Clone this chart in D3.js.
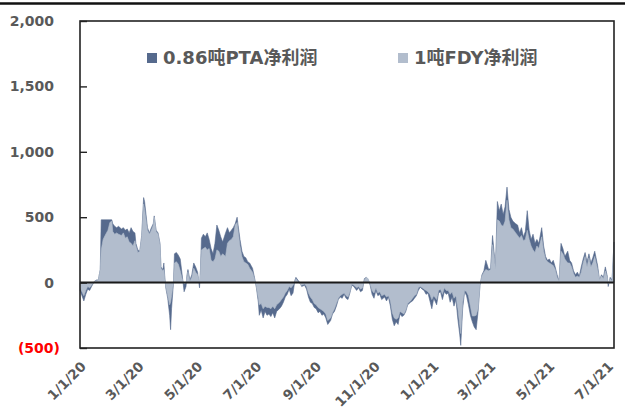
<!DOCTYPE html>
<html>
<head>
<meta charset="utf-8">
<script src="https://cdn.jsdelivr.net/npm/d3@7/dist/d3.min.js"></script>
<style>
  body { margin: 0; background: #fff; }
  svg { display: block; }
</style>
</head>
<body>
<svg id="chart" width="625" height="412"></svg>
<script>
// Daily net profit: 0.86 t PTA vs 1 t FDY (yuan)
const dates = [
  "2020-01-01","2020-01-03","2020-01-05","2020-01-07","2020-01-09","2020-01-11","2020-01-13","2020-01-16","2020-01-18","2020-01-20",
  "2020-01-21","2020-01-22","2020-01-23","2020-01-25","2020-01-27","2020-01-30","2020-02-01","2020-02-03","2020-02-04","2020-02-06",
  "2020-02-08","2020-02-10","2020-02-13","2020-02-15","2020-02-17","2020-02-19","2020-02-21","2020-02-23","2020-02-25","2020-02-27",
  "2020-02-28","2020-03-01","2020-03-03","2020-03-05","2020-03-07","2020-03-08","2020-03-11","2020-03-13","2020-03-15","2020-03-17",
  "2020-03-18","2020-03-20","2020-03-22","2020-03-24","2020-03-25","2020-03-27","2020-03-28","2020-03-29","2020-03-30","2020-04-01",
  "2020-04-03","2020-04-04","2020-04-05","2020-04-07","2020-04-08","2020-04-10","2020-04-12","2020-04-14","2020-04-16","2020-04-18",
  "2020-04-20","2020-04-21","2020-04-22","2020-04-24","2020-04-26","2020-04-28","2020-04-30","2020-05-02","2020-05-04","2020-05-05",
  "2020-05-06","2020-05-08","2020-05-10","2020-05-12","2020-05-14","2020-05-16","2020-05-18","2020-05-20","2020-05-22","2020-05-24",
  "2020-05-26","2020-05-28","2020-05-31","2020-06-02","2020-06-04","2020-06-06","2020-06-08","2020-06-10","2020-06-12","2020-06-13",
  "2020-06-15","2020-06-17","2020-06-19","2020-06-21","2020-06-23","2020-06-25","2020-06-28","2020-06-30","2020-07-02","2020-07-04",
  "2020-07-05","2020-07-07","2020-07-09","2020-07-11","2020-07-13","2020-07-15","2020-07-17","2020-07-19","2020-07-21","2020-07-23",
  "2020-07-26","2020-07-28","2020-07-30","2020-08-01","2020-08-03","2020-08-05","2020-08-07","2020-08-09","2020-08-11","2020-08-12",
  "2020-08-14","2020-08-16","2020-08-18","2020-08-21","2020-08-23","2020-08-25","2020-08-27","2020-08-29","2020-08-31","2020-09-02",
  "2020-09-04","2020-09-06","2020-09-08","2020-09-10","2020-09-12","2020-09-14","2020-09-17","2020-09-19","2020-09-21","2020-09-23",
  "2020-09-25","2020-09-27","2020-09-29","2020-10-01","2020-10-03","2020-10-05","2020-10-07","2020-10-09","2020-10-11","2020-10-14",
  "2020-10-16","2020-10-18","2020-10-20","2020-10-22","2020-10-24","2020-10-26","2020-10-28","2020-10-30","2020-11-01","2020-11-03",
  "2020-11-05","2020-11-07","2020-11-09","2020-11-12","2020-11-14","2020-11-16","2020-11-18","2020-11-20","2020-11-22","2020-11-24",
  "2020-11-26","2020-11-28","2020-11-30","2020-12-02","2020-12-04","2020-12-06","2020-12-09","2020-12-11","2020-12-13","2020-12-15",
  "2020-12-17","2020-12-19","2020-12-21","2020-12-23","2020-12-25","2020-12-27","2020-12-29","2020-12-31","2021-01-02","2021-01-05",
  "2021-01-07","2021-01-09","2021-01-11","2021-01-13","2021-01-15","2021-01-17","2021-01-19","2021-01-21","2021-01-23","2021-01-25",
  "2021-01-27","2021-01-29","2021-01-30","2021-02-01","2021-02-03","2021-02-05","2021-02-07","2021-02-09","2021-02-11","2021-02-13",
  "2021-02-15","2021-02-17","2021-02-19","2021-02-21","2021-02-23","2021-02-25","2021-02-28","2021-03-02","2021-03-04","2021-03-06",
  "2021-03-07","2021-03-09","2021-03-11","2021-03-13","2021-03-15","2021-03-17","2021-03-19","2021-03-21","2021-03-23","2021-03-25",
  "2021-03-28","2021-03-30","2021-04-01","2021-04-03","2021-04-05","2021-04-07","2021-04-09","2021-04-11","2021-04-13","2021-04-15",
  "2021-04-17","2021-04-19","2021-04-21","2021-04-24","2021-04-26","2021-04-28","2021-04-30","2021-05-02","2021-05-04","2021-05-06",
  "2021-05-08","2021-05-10","2021-05-12","2021-05-14","2021-05-16","2021-05-18","2021-05-21","2021-05-23","2021-05-25","2021-05-27",
  "2021-05-29","2021-05-31","2021-06-02","2021-06-04","2021-06-06","2021-06-08","2021-06-10","2021-06-12","2021-06-14","2021-06-16",
  "2021-06-18","2021-06-21","2021-06-23","2021-06-25","2021-06-27","2021-06-29","2021-07-01","2021-07-02","2021-07-04","2021-07-06","2021-07-08"
];

const ptaProfit = [
  -60,-100,-140,-90,-50,-60,-30,10,20,20,
  60,100,480,480,480,480,480,480,450,430,
  420,430,410,420,400,410,380,420,390,380,
  300,250,240,360,650,620,420,380,420,450,
  510,400,380,300,120,100,150,40,-40,-120,
  -250,-360,-200,0,220,230,210,180,60,-70,
  -30,60,100,20,60,150,120,80,-40,100,
  340,370,350,380,330,260,220,300,440,400,
  350,310,380,420,380,400,420,450,500,440,
  330,240,200,190,160,150,110,40,-40,-150,
  -250,-210,-270,-220,-250,-240,-260,-230,-270,-220,
  -200,-180,-150,-110,-90,-50,-100,-80,20,40,
  20,0,-30,-20,-50,-110,-150,-160,-190,-200,
  -230,-220,-250,-240,-270,-320,-290,-240,-220,-180,
  -130,-110,-120,-90,-120,-130,-80,-20,-30,-60,
  -40,-70,-60,30,40,20,-20,-90,-120,-60,
  -100,-90,-130,-110,-140,-110,-180,-280,-330,-300,
  -320,-240,-260,-250,-220,-170,-150,-140,-120,-100,
  -60,-35,-50,-60,-90,-80,-140,-200,-120,-170,
  -80,-70,-130,-70,-90,-80,-150,-110,-180,-130,
  -280,-400,-480,-200,-70,-100,-170,-250,-300,-340,
  -360,-220,-20,60,90,170,100,110,360,200,
  110,620,550,600,520,580,730,560,500,470,
  450,440,380,420,350,390,550,400,330,370,
  300,330,300,420,280,200,170,180,150,170,
  120,60,10,300,260,200,240,170,150,90,
  60,80,50,120,180,230,160,220,150,190,
  240,130,20,60,40,120,50,-30,40,20,310
];

const fdyProfit = [
  -40,-70,-100,-60,-30,-40,-20,10,15,20,
  60,100,250,330,360,400,460,470,390,370,
  380,370,360,380,340,350,310,300,280,320,
  280,230,240,350,600,560,400,370,400,440,
  500,390,370,290,110,90,100,30,-30,-100,
  -170,-150,-100,0,150,160,140,90,30,-10,
  0,40,80,10,40,110,80,60,0,100,
  250,260,270,250,260,170,160,180,250,240,
  200,220,200,300,320,330,350,440,460,400,
  280,200,160,150,140,110,80,30,-30,-120,
  -170,-160,-200,-180,-190,-190,-200,-180,-200,-170,
  -150,-130,-110,-80,-60,-30,-40,-20,10,30,
  10,-10,-20,-10,-30,-80,-110,-130,-160,-170,
  -190,-200,-210,-220,-240,-290,-270,-230,-200,-160,
  -120,-100,-90,-80,-100,-110,-70,-10,-20,-40,
  -30,-50,-40,20,40,30,-10,-60,-80,-40,
  -80,-70,-100,-90,-110,-100,-140,-230,-270,-280,
  -270,-220,-230,-240,-210,-160,-140,-120,-100,-90,
  -40,-30,-40,-50,-60,-70,-90,-130,-100,-130,
  -60,-50,-90,-40,-60,-60,-90,-70,-120,-100,
  -200,-330,-390,-150,-60,-70,-100,-180,-255,-255,
  -250,-200,-10,50,80,100,90,100,290,180,
  100,480,470,440,430,470,630,480,420,410,
  380,360,340,360,320,330,400,330,280,250,
  230,280,260,350,240,180,160,150,140,130,
  100,40,10,240,220,180,150,150,120,70,
  40,50,40,80,150,200,120,190,120,150,
  200,100,20,50,30,90,40,-10,30,10,300
];

const seriesNames = ["0.86吨PTA净利润", "1吨FDY净利润"];
const seriesColors = ["#566a8d", "#b2bdcd"];
const yTicks = [-500, 0, 500, 1000, 1500, 2000];
const xTickDates = ["2020-01-01","2020-03-01","2020-05-01","2020-07-01","2020-09-01",
                    "2020-11-01","2021-01-01","2021-03-01","2021-05-01","2021-07-01"];
const xDomain = ["2020-01-01", "2021-07-08"];

if (dates.length !== ptaProfit.length || dates.length !== fdyProfit.length) {
  throw new Error("series length mismatch: " + dates.length + " / " + ptaProfit.length + " / " + fdyProfit.length);
}

const parse = d3.utcParse("%Y-%m-%d");
const FONT = "'DejaVu Sans', 'Noto Sans CJK SC', sans-serif";
const plot = { left: 80, right: 614, top: 21, bottom: 348 };

const svg = d3.select("#chart");

const x = d3.scaleUtc()
  .domain(xDomain.map(parse))
  .range([plot.left, plot.right]);

const y = d3.scaleLinear()
  .domain([-500, 2000])
  .range([plot.bottom, plot.top]);

// rule across the top of the page
svg.append("line")
  .attr("x1", 0).attr("x2", 625)
  .attr("y1", 3.5).attr("y2", 3.5)
  .attr("stroke", "#111").attr("stroke-width", 2.5);

const series = [ptaProfit, fdyProfit].map((vals, i) => ({
  name: seriesNames[i],
  color: seriesColors[i],
  points: dates.map((d, j) => ({ date: parse(d), value: vals[j] }))
}));

const area = d3.area()
  .x(d => x(d.date))
  .y0(y(0))
  .y1(d => y(d.value));

// PTA first, FDY drawn over it
svg.append("g")
  .selectAll("path")
  .data(series)
  .join("path")
  .attr("d", d => area(d.points))
  .attr("fill", d => d.color)
  .attr("stroke", d => d.color)
  .attr("stroke-width", 0.6);

// zero line
svg.append("line")
  .attr("x1", plot.left).attr("x2", plot.right)
  .attr("y1", y(0)).attr("y2", y(0))
  .attr("stroke", "#1a1a1a").attr("stroke-width", 2);

// plot frame
svg.append("rect")
  .attr("x", plot.left).attr("y", plot.top)
  .attr("width", plot.right - plot.left)
  .attr("height", plot.bottom - plot.top)
  .attr("fill", "none")
  .attr("stroke", "#222").attr("stroke-width", 1.6);

// y axis with inward ticks
const yFmt = v => v < 0 ? "(" + d3.format(",")(-v) + ")" : d3.format(",")(v);
const yAxis = svg.append("g")
  .attr("transform", `translate(${plot.left},0)`)
  .call(d3.axisLeft(y).tickValues(yTicks).tickSizeInner(-7).tickSizeOuter(0).tickPadding(26).tickFormat(yFmt));
yAxis.select(".domain").remove();
yAxis.selectAll(".tick line").attr("stroke", "#222").attr("stroke-width", 1.4);
yAxis.selectAll(".tick text")
  .attr("font-family", FONT)
  .attr("font-size", 14)
  .attr("font-weight", "bold")
  .attr("fill", d => d < 0 ? "#ff0000" : "#595959")
  .attr("dx", d => d < 0 ? 6 : 0);

// x axis labels, rotated
const xAxis = svg.append("g")
  .attr("transform", `translate(0,${plot.bottom})`)
  .call(d3.axisBottom(x).tickValues(xTickDates.map(parse)).tickSize(0).tickFormat(d3.utcFormat("%-m/%-d/%y")));
xAxis.select(".domain").remove();
xAxis.selectAll(".tick text")
  .attr("font-family", FONT)
  .attr("font-size", 13.5)
  .attr("font-weight", "bold")
  .attr("fill", "#595959")
  .attr("text-anchor", "end")
  .attr("x", 0).attr("y", 0).attr("dy", "0.35em")
  .attr("transform", "translate(3,16) rotate(-45)");

// legend
const legendX = [147, 398];
const legend = svg.append("g")
  .selectAll("g")
  .data(series)
  .join("g")
  .attr("transform", (d, i) => `translate(${legendX[i]},58)`);
legend.append("rect")
  .attr("x", 0).attr("y", -5)
  .attr("width", 10).attr("height", 10)
  .attr("fill", d => d.color);
legend.append("text")
  .attr("x", 16).attr("dy", "0.35em")
  .attr("font-family", FONT)
  .attr("font-size", 18)
  .attr("font-weight", "bold")
  .attr("fill", "#595959")
  .text(d => d.name);
</script>
</body>
</html>
